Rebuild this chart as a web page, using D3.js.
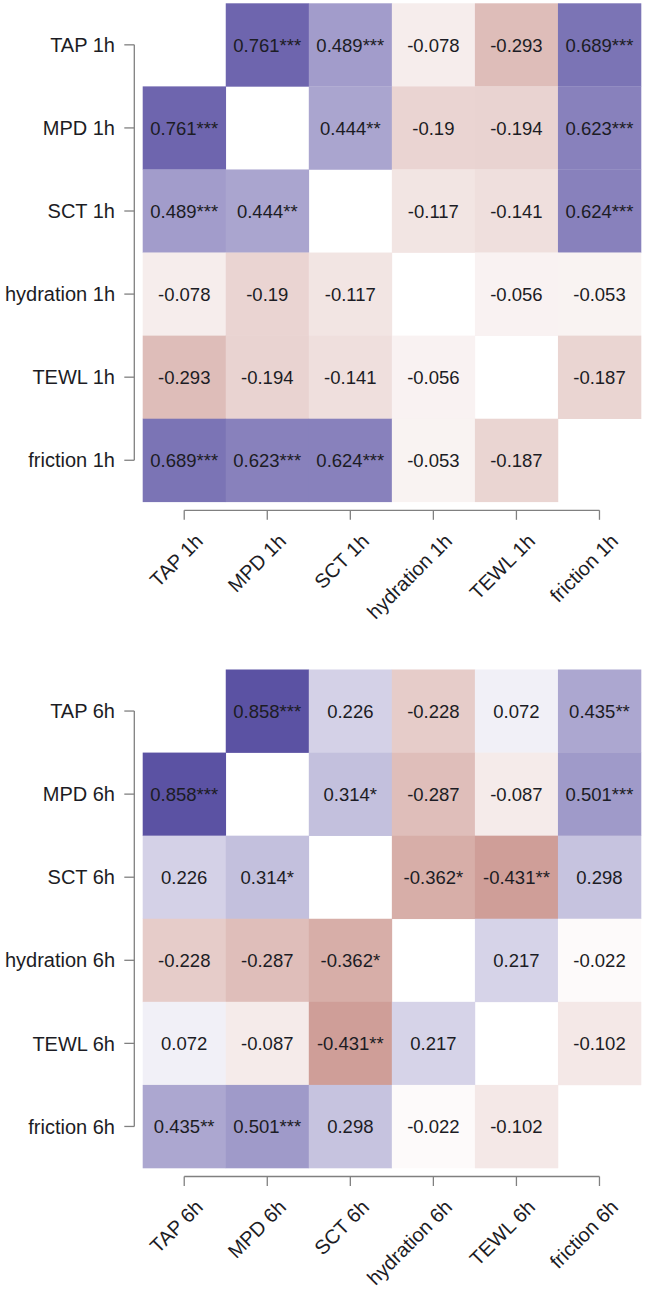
<!DOCTYPE html>
<html>
<head>
<meta charset="utf-8">
<script src="https://cdn.jsdelivr.net/npm/d3@7"></script>
<style>
  html, body { margin: 0; padding: 0; background: #fff; }
  svg { display: block; font-family: "Liberation Sans", Arial, sans-serif; }
</style>
</head>
<body>
<svg id="chart" width="645" height="1289"></svg>
<script>
const labels1h = ["TAP 1h", "MPD 1h", "SCT 1h", "hydration 1h", "TEWL 1h", "friction 1h"];
const corr1h = [
  [null, 0.761, 0.489, -0.078, -0.293, 0.689],
  [0.761, null, 0.444, -0.19, -0.194, 0.623],
  [0.489, 0.444, null, -0.117, -0.141, 0.624],
  [-0.078, -0.19, -0.117, null, -0.056, -0.053],
  [-0.293, -0.194, -0.141, -0.056, null, -0.187],
  [0.689, 0.623, 0.624, -0.053, -0.187, null]
];
const stars1h = [
  ["", "***", "***", "", "", "***"],
  ["***", "", "**", "", "", "***"],
  ["***", "**", "", "", "", "***"],
  ["", "", "", "", "", ""],
  ["", "", "", "", "", ""],
  ["***", "***", "***", "", "", ""]
];

const labels6h = ["TAP 6h", "MPD 6h", "SCT 6h", "hydration 6h", "TEWL 6h", "friction 6h"];
const corr6h = [
  [null, 0.858, 0.226, -0.228, 0.072, 0.435],
  [0.858, null, 0.314, -0.287, -0.087, 0.501],
  [0.226, 0.314, null, -0.362, -0.431, 0.298],
  [-0.228, -0.287, -0.362, null, 0.217, -0.022],
  [0.072, -0.087, -0.431, 0.217, null, -0.102],
  [0.435, 0.501, 0.298, -0.022, -0.102, null]
];
const stars6h = [
  ["", "***", "", "", "", "**"],
  ["***", "", "*", "", "", "***"],
  ["", "*", "", "*", "**", ""],
  ["", "", "*", "", "", ""],
  ["", "", "**", "", "", ""],
  ["**", "***", "", "", "", ""]
];

const svg = d3.select("#chart");
const color = d3.scaleLinear()
  .domain([-1, 0, 1])
  .range(["#901e10", "#ffffff", "#403594"])
  .interpolate(d3.interpolateRgb);

function drawPanel(labels, corr, stars, top) {
  const x = d3.scaleBand().domain(labels).range([142.7, 641]).padding(0);
  const y = d3.scaleBand().domain(labels).range([top, top + 498.5]).padding(0);
  const g = svg.append("g");
  const cells = [];
  labels.forEach((rl, i) => labels.forEach((cl, j) => {
    if (corr[i][j] !== null) cells.push({ r: rl, c: cl, v: corr[i][j], s: stars[i][j] });
  }));
  g.selectAll("rect.cell").data(cells).join("rect")
    .attr("class", "cell")
    .attr("x", d => x(d.c))
    .attr("y", d => y(d.r))
    .attr("width", x.bandwidth() + 0.3)
    .attr("height", y.bandwidth() + 0.3)
    .attr("fill", d => color(d.v));
  g.selectAll("text.val").data(cells).join("text")
    .attr("class", "val")
    .attr("x", d => x(d.c) + x.bandwidth() / 2)
    .attr("y", d => y(d.r) + y.bandwidth() / 2)
    .attr("dy", "0.36em")
    .attr("text-anchor", "middle")
    .attr("font-size", 18.5)
    .attr("fill", "#1c1c24")
    .text(d => String(d.v) + d.s);

  // y axis
  const yAxisX = 134.3;
  const yc = labels.map(l => y(l) + y.bandwidth() / 2);
  const ax = g.append("g").attr("stroke", "#808080").attr("stroke-width", 1.3).attr("fill", "none");
  ax.append("line").attr("x1", yAxisX).attr("x2", yAxisX).attr("y1", yc[0]).attr("y2", yc[yc.length - 1]);
  labels.forEach(l => {
    const cy = y(l) + y.bandwidth() / 2;
    ax.append("line").attr("x1", yAxisX - 10).attr("x2", yAxisX).attr("y1", cy).attr("y2", cy);
  });
  g.selectAll("text.ylab").data(labels).join("text")
    .attr("class", "ylab")
    .attr("x", 115)
    .attr("y", l => y(l) + y.bandwidth() / 2)
    .attr("dy", "0.36em")
    .attr("text-anchor", "end")
    .attr("font-size", 20)
    .attr("fill", "#1c1c24")
    .text(l => l);

  // x axis
  const axisY = top + 498.5 + 8.5;
  const xc = labels.map(l => x(l) + x.bandwidth() / 2);
  ax.append("line").attr("x1", xc[0]).attr("x2", xc[xc.length - 1]).attr("y1", axisY).attr("y2", axisY);
  labels.forEach(l => {
    const cx = x(l) + x.bandwidth() / 2;
    ax.append("line").attr("x1", cx).attr("x2", cx).attr("y1", axisY).attr("y2", axisY + 9.5);
  });
  g.selectAll("text.xlab").data(labels).join("text")
    .attr("class", "xlab")
    .attr("transform", l => `translate(${x(l) + x.bandwidth() / 2 + 20},${axisY + 32}) rotate(-45)`)
    .attr("text-anchor", "end")
    .attr("font-size", 20)
    .attr("fill", "#1c1c24")
    .text(l => l);
}

drawPanel(labels1h, corr1h, stars1h, 3.3);
drawPanel(labels6h, corr6h, stars6h, 669.5);
</script>
</body>
</html>
